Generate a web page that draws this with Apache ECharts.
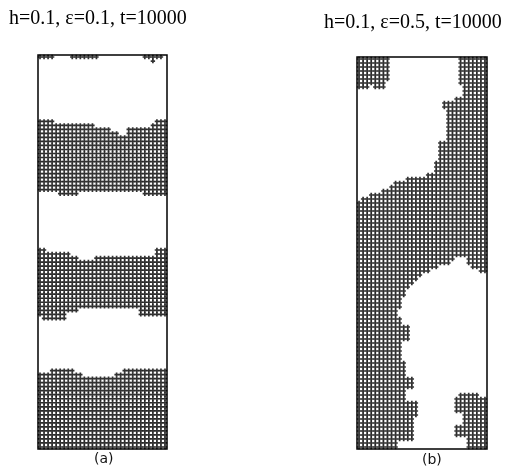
<!DOCTYPE html>
<html>
<head>
<meta charset="utf-8" />
<title>lattice domains</title>
<style>
html, body { margin: 0; padding: 0; background: #fff; }
#chart { width: 520px; height: 472px; }
</style>
</head>
<body>
<div id="chart"></div>
<script src="https://cdn.jsdelivr.net/npm/echarts@6/dist/echarts.min.js"></script>
<script>
// lattice size (columns x rows) of both panels
var COLS = 32, ROWS = 98;

var titleA = 'h=0.1, \u03b5=0.1, t=10000';
var titleB = 'h=0.1, \u03b5=0.5, t=10000';
var panelLabels = ['(a)', '(b)'];

// panel (a): stripes, first / last occupied row for each column
var aBand1Top = [16,16,16,16,17,17,17,17,17,17,17,17,17,17,18,18,18,18,19,19,20,20,18,18,18,18,18,18,17,16,16,16];
var aBand1Bot = [33,33,33,33,33,34,34,34,34,34,33,33,33,33,33,33,33,33,33,33,33,33,33,33,33,33,34,34,34,34,34,34];
var aBand2Top = [48,48,49,49,49,49,49,49,50,50,51,51,51,51,50,50,50,50,50,50,50,50,50,50,50,50,50,50,50,48,48,48];
var aBand2Bot = [64,65,65,65,65,65,65,63,63,63,62,62,62,62,62,62,62,62,62,62,62,62,62,62,62,64,64,64,64,64,64,64];
var aBand3Top = [79,79,79,78,78,78,78,78,78,79,79,80,80,80,80,80,80,80,80,79,79,78,78,78,78,78,78,78,78,78,78,78];
// wrapped part of the bottom stripe showing at the top edge: [row, col]
var aTopSites = [[0,0],[0,1],[0,2],[0,3],[0,8],[0,9],[0,10],[0,11],[0,12],[0,13],[0,14],
                 [0,26],[0,27],[0,28],[0,29],[0,30],[1,28]];

// panel (b): occupied runs, [firstRow, lastRow, [[c0,c1], ...]]
var bRuns = [
  [0, 5,  [[0,7],[25,31]]],
  [6, 6,  [[0,6],[25,31]]],
  [7, 7,  [[0,2],[4,6],[26,31]]],
  [8, 9,  [[26,31]]],
  [10,10, [[24,31]]],
  [11,12, [[21,31]]],
  [13,20, [[22,31]]],
  [21,25, [[20,31]]],
  [26,28, [[19,31]]],
  [29,29, [[17,31]]],
  [30,30, [[12,31]]],
  [31,31, [[9,31]]],
  [32,32, [[8,31]]],
  [33,33, [[6,31]]],
  [34,34, [[3,31]]],
  [35,35, [[1,31]]],
  [36,49, [[0,31]]],
  [50,50, [[0,23],[27,31]]],
  [51,51, [[0,22],[27,31]]],
  [52,52, [[0,19],[28,31]]],
  [53,53, [[0,17],[30,31]]],
  [54,54, [[0,15]]],
  [55,55, [[0,14]]],
  [56,56, [[0,13]]],
  [57,57, [[0,12]]],
  [58,59, [[0,11]]],
  [60,62, [[0,10]]],
  [63,64, [[0,9]]],
  [65,66, [[0,10]]],
  [67,70, [[0,12]]],
  [71,75, [[0,10]]],
  [76,79, [[0,11]]],
  [80,82, [[0,13]]],
  [83,83, [[0,11]]],
  [84,84, [[0,11],[25,29]]],
  [85,85, [[0,11],[24,31]]],
  [86,88, [[0,14],[24,31]]],
  [89,89, [[0,14],[26,31]]],
  [90,91, [[0,13],[26,31]]],
  [92,94, [[0,13],[24,31]]],
  [95,95, [[0,13],[27,31]]],
  [96,97, [[0,9],[27,31]]]
];

function site(c, r) { return [c + 0.5, r + 0.5]; }

var dataA = [];
for (var c = 0; c < COLS; c++) {
  for (var r = aBand1Top[c]; r <= aBand1Bot[c]; r++) dataA.push(site(c, r));
  for (r = aBand2Top[c]; r <= aBand2Bot[c]; r++) dataA.push(site(c, r));
  for (r = aBand3Top[c]; r < ROWS; r++) dataA.push(site(c, r));
}
aTopSites.forEach(function (s) { dataA.push(site(s[1], s[0])); });

var dataB = [];
bRuns.forEach(function (run) {
  for (var r = run[0]; r <= run[1]; r++) {
    run[2].forEach(function (span) {
      for (var c = span[0]; c <= span[1]; c++) dataB.push(site(c, r));
    });
  }
});

// one lattice site = a "+" whose arms reach the neighbouring sites
var plus = 'path://M0,4.9h16v6.2h-16z M4.9,0h6.2v16h-6.2z';

var chart = echarts.init(document.getElementById('chart'), null, { renderer: 'canvas' });

function xAx(i) {
  return { gridIndex: i, type: 'value', min: 0, max: COLS, show: false };
}
function yAx(i) {
  return { gridIndex: i, type: 'value', min: 0, max: ROWS, inverse: true, show: false };
}
function lattice(i, data) {
  return {
    type: 'scatter', xAxisIndex: i, yAxisIndex: i,
    data: data, symbol: plus, symbolSize: 4.4,
    itemStyle: { color: '#000' },
    silent: true, animation: false
  };
}

var option = {
  backgroundColor: '#fff',
  animation: false,
  grid: [
    { left: 38, top: 55, width: 129, height: 394, show: true, borderColor: '#000', borderWidth: 1.5 },
    { left: 357, top: 57, width: 130, height: 392, show: true, borderColor: '#000', borderWidth: 1.5 }
  ],
  xAxis: [xAx(0), xAx(1)],
  yAxis: [yAx(0), yAx(1)],
  series: [lattice(0, dataA), lattice(1, dataB)],
  graphic: [
    { type: 'text', left: 9, top: 9,
      style: { text: titleA, fill: '#000', font: '20px "Liberation Serif", "DejaVu Serif", serif' } },
    { type: 'text', left: 324, top: 13,
      style: { text: titleB, fill: '#000', font: '20px "Liberation Serif", "DejaVu Serif", serif' } },
    { type: 'text', left: 94, top: 452,
      style: { text: panelLabels[0], fill: '#111', font: '14px "DejaVu Sans", sans-serif' } },
    { type: 'text', left: 422, top: 453,
      style: { text: panelLabels[1], fill: '#111', font: '14px "DejaVu Sans", sans-serif' } }
  ]
};

chart.setOption(option);
</script>
</body>
</html>
